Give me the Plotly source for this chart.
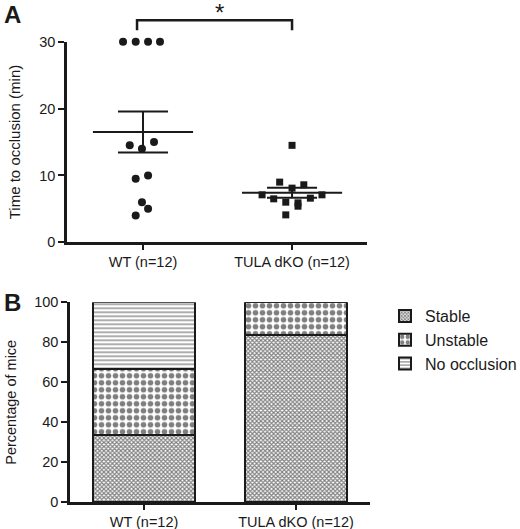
import numpy as np
import plotly.graph_objects as go

# ---------------- data ----------------
groups = ["WT (n=12)", "TULA dKO (n=12)"]

wt_time = [30, 30, 30, 30, 14.5, 15, 14, 9.5, 10, 6, 5, 4]
wt_jitter = [-0.134, -0.049, 0.034, 0.114, -0.089, 0.074, -0.007, -0.049, 0.034, -0.007, 0.034, -0.049]

ko_time = [14.5, 9.0, 8.6, 8.1, 7.1, 7.1, 6.5, 6.6, 6.0, 5.9, 5.4, 4.1]
ko_jitter = [0.0, -0.083, 0.079, 0.0, -0.201, 0.201, -0.123, 0.123, -0.042, 0.040, 0.040, -0.042]

outcomes = ["Stable", "Unstable", "No occlusion"]
stable_pct = [33.3, 83.3]
unstable_pct = [33.3, 16.7]
noocc_pct = [33.4, 0.0]

y_ticks_a = [0, 10, 20, 30]
y_ticks_b = [0, 20, 40, 60, 80, 100]
sig_label = "*"

# ---------------- figure ----------------
W, H = 520, 529
FONT = "Liberation Sans, Arial, sans-serif"
INK = "#1a1a1a"

ya_dom = [1 - 242.3 / H, 1 - 41.7 / H]
ya_max = y_ticks_a[-1]

fig = go.Figure()

# Panel A scatter
def add_group(xc, vals, jit, symbol, size):
    fig.add_trace(go.Scatter(
        x=[xc + j for j in jit], y=vals, mode="markers",
        marker=dict(symbol=symbol, size=size, color=INK, line=dict(width=0)),
        cliponaxis=False, showlegend=False, xaxis="x", yaxis="y", hoverinfo="skip"))
    v = np.array(vals, dtype=float)
    m = v.mean()
    sem = v.std(ddof=1) / np.sqrt(len(v))
    hw, cw = 0.336, 0.168
    xs = [xc - hw, xc + hw, None, xc, xc, None, xc - cw, xc + cw, None, xc - cw, xc + cw]
    ys = [m, m, None, m - sem, m + sem, None, m + sem, m + sem, None, m - sem, m - sem]
    fig.add_trace(go.Scatter(x=xs, y=ys, mode="lines", line=dict(color=INK, width=2),
                             showlegend=False, xaxis="x", yaxis="y", hoverinfo="skip"))

add_group(0, wt_time, wt_jitter, "circle", 8)
add_group(1, ko_time, ko_jitter, "square", 7)

# Panel B stacked bars
bar_specs = [
    (outcomes[0], stable_pct, dict(shape="x", size=3, solidity=0.62, fgcolor="#000000", bgcolor="#ffffff")),
    (outcomes[1], unstable_pct, dict(shape=".", size=7, solidity=0.5, fgcolor="#000000", bgcolor="#ffffff")),
    (outcomes[2], noocc_pct, dict(shape="-", size=4, solidity=0.4, fgcolor="#333333", bgcolor="#ffffff")),
]
for name, vals, pat in bar_specs:
    fig.add_trace(go.Bar(
        x=[0, 1], y=vals, name=name, width=0.665,
        marker=dict(color="#ffffff", pattern=pat, line=dict(color=INK, width=2.5)),
        xaxis="x2", yaxis="y2", hoverinfo="skip"))

# significance bracket (x in data, y in domain fraction of panel A)
br_top = 33.2 / ya_max
br_bot = 31.7 / ya_max
fig.add_shape(type="path", xref="x", yref="y domain",
              path=f"M -0.04,{br_bot} L -0.04,{br_top} L 1,{br_top} L 1,{br_bot}",
              line=dict(color=INK, width=2.5))
fig.add_annotation(x=0.515, y=1, xref="x", yref="paper", text=sig_label,
                   xanchor="center", yanchor="top", borderpad=0, yshift=2,
                   showarrow=False, font=dict(family=FONT, size=24, color=INK))

# panel letters
fig.add_annotation(x=12 / W, y=1 - 14 / H, xref="paper", yref="paper", text="<b>A</b>",
                   xanchor="center", yanchor="middle",
                   showarrow=False, font=dict(family=FONT, size=24, color=INK))
fig.add_annotation(x=12 / W, y=1 - 302 / H, xref="paper", yref="paper", text="<b>B</b>",
                   xanchor="center", yanchor="middle",
                   showarrow=False, font=dict(family=FONT, size=24, color=INK))

axis_common = dict(showline=True, linecolor=INK, linewidth=2.5, ticks="outside",
                   tickcolor=INK, tickwidth=2, showgrid=False, zeroline=False, automargin=False,
                   tickfont=dict(family=FONT, size=14.5, color=INK))

fig.update_layout(
    width=W, height=H, margin=dict(l=0, r=0, t=0, b=0, autoexpand=False),
    paper_bgcolor="white", plot_bgcolor="white",
    font=dict(family=FONT, size=14, color=INK),
    barmode="stack", bargap=0,
    xaxis=dict(domain=[67 / W, 367 / W], range=[-0.51, 1.503], tickvals=[0, 1],
               ticktext=groups, ticklen=5, anchor="y", **axis_common),
    yaxis=dict(domain=ya_dom, range=[0, ya_max], tickvals=y_ticks_a,
               ticklen=6, anchor="x",
               title=dict(text="Time to occlusion (min)", font=dict(family=FONT, size=15, color=INK)),
               **axis_common),
    xaxis2=dict(domain=[70 / W, 370 / W], range=[-0.487, 1.487], tickvals=[0, 1],
                ticktext=groups, ticklen=5, anchor="y2", **axis_common),
    yaxis2=dict(domain=[1 - 502.3 / H, 1 - 302.3 / H], range=[0, 100], tickvals=y_ticks_b,
                ticklen=6, anchor="x2",
                title=dict(text="Percentage of mice", font=dict(family=FONT, size=14.5, color=INK)),
                **axis_common),
    legend=dict(x=385 / W, y=1 - 299 / H, xanchor="left", yanchor="top", traceorder="normal",
                font=dict(family=FONT, size=16, color=INK), bgcolor="rgba(0,0,0,0)",
                itemsizing="constant", tracegroupgap=0),
    showlegend=True,
)

fig.write_html("out.html", config={"displayModeBar": False},
               post_script="document.body.style.margin='0';document.body.style.overflow='hidden';")
